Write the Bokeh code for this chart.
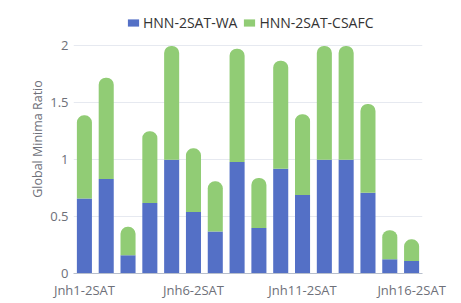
from bokeh.plotting import figure
from bokeh.models import ColumnDataSource, Range1d, FixedTicker, Legend, LegendItem
from bokeh.embed import file_html
from bokeh.resources import INLINE

categories = [f"Jnh{i}-2SAT" for i in range(1, 17)]
wa = [0.66, 0.83, 0.16, 0.62, 1.0, 0.54, 0.37, 0.98, 0.40, 0.92, 0.69, 1.0, 1.0, 0.71, 0.125, 0.11]
total = [1.39, 1.72, 0.41, 1.25, 2.0, 1.10, 0.81, 1.975, 0.84, 1.87, 1.40, 2.0, 2.0, 1.49, 0.38, 0.30]
csafc = [round(t - w, 3) for t, w in zip(total, wa)]
shown_labels = [0, 5, 10, 15]
y_ticks = [0, 0.5, 1, 1.5, 2]
y_tick_labels = ["0", "0.5", "1", "1.5", "2"]

src = ColumnDataSource(dict(x=list(range(len(categories))), wa=wa, csafc=csafc, total=total))

FONT = "Open Sans"
# frame extends above y=2 to leave room for the legend (gridlines stop at 2)
p = figure(width=455, height=301, output_backend="svg", toolbar_location=None,
           x_range=Range1d(-0.5, len(categories) - 0.5), y_range=Range1d(0, 2.364),
           min_border_left=73, min_border_right=33, min_border_top=4, min_border_bottom=27)
p.outline_line_color = None
p.background_fill_color = "white"
p.border_fill_color = "white"

r1 = p.vbar(x="x", top="wa", bottom=0, width=0.69, source=src, fill_color="#5470c6", line_color=None)
r2 = p.vbar(x="x", top="total", bottom="wa", width=0.69, source=src, fill_color="#91cc75",
            line_color=None, border_radius=(7, 7, 0, 0))

p.xgrid.grid_line_color = None
p.ygrid.grid_line_color = "#e6e9f0"
p.ygrid.ticker = FixedTicker(ticks=y_ticks)

p.yaxis.ticker = FixedTicker(ticks=y_ticks)
p.yaxis.major_label_overrides = {t: l for t, l in zip(y_ticks, y_tick_labels)}
p.yaxis.axis_line_color = None
p.yaxis.major_tick_line_color = None
p.yaxis.major_tick_out = 0
p.yaxis.major_tick_in = 0
p.yaxis.minor_tick_line_color = None
p.yaxis.major_label_text_color = "#6e7079"
p.yaxis.major_label_text_font = FONT
p.yaxis.major_label_text_font_size = "13px"
p.yaxis.major_label_standoff = 5
p.yaxis.axis_label = "Global Minima Ratio"
p.yaxis.axis_label_text_font = FONT
p.yaxis.axis_label_text_font_style = "normal"
p.yaxis.axis_label_text_font_size = "12.5px"
p.yaxis.axis_label_text_color = "#6e7079"
p.yaxis.axis_label_standoff = 1

p.xaxis.ticker = FixedTicker(ticks=shown_labels)
p.xaxis.major_label_overrides = {i: categories[i] for i in shown_labels}
p.xaxis.axis_line_color = "#b8bfcc"
p.xaxis.major_tick_line_color = None
p.xaxis.major_tick_out = 0
p.xaxis.major_tick_in = 0
p.xaxis.minor_tick_line_color = None
p.xaxis.major_label_text_color = "#6e7079"
p.xaxis.major_label_text_font = FONT
p.xaxis.major_label_text_font_size = "13px"
p.xaxis.major_label_standoff = 7

legend = Legend(items=[LegendItem(label="HNN-2SAT-WA", renderers=[r1]),
                       LegendItem(label="HNN-2SAT-CSAFC", renderers=[r2])],
                orientation="horizontal", location=(53, 241),
                label_text_font=FONT, label_text_font_size="14px", label_text_color="#333333",
                glyph_width=14, glyph_height=9, spacing=5, label_standoff=3,
                padding=4, margin=0, border_line_color=None, background_fill_alpha=0)
p.add_layout(legend, "center")

open("out.html", "w").write(file_html(p, INLINE))
